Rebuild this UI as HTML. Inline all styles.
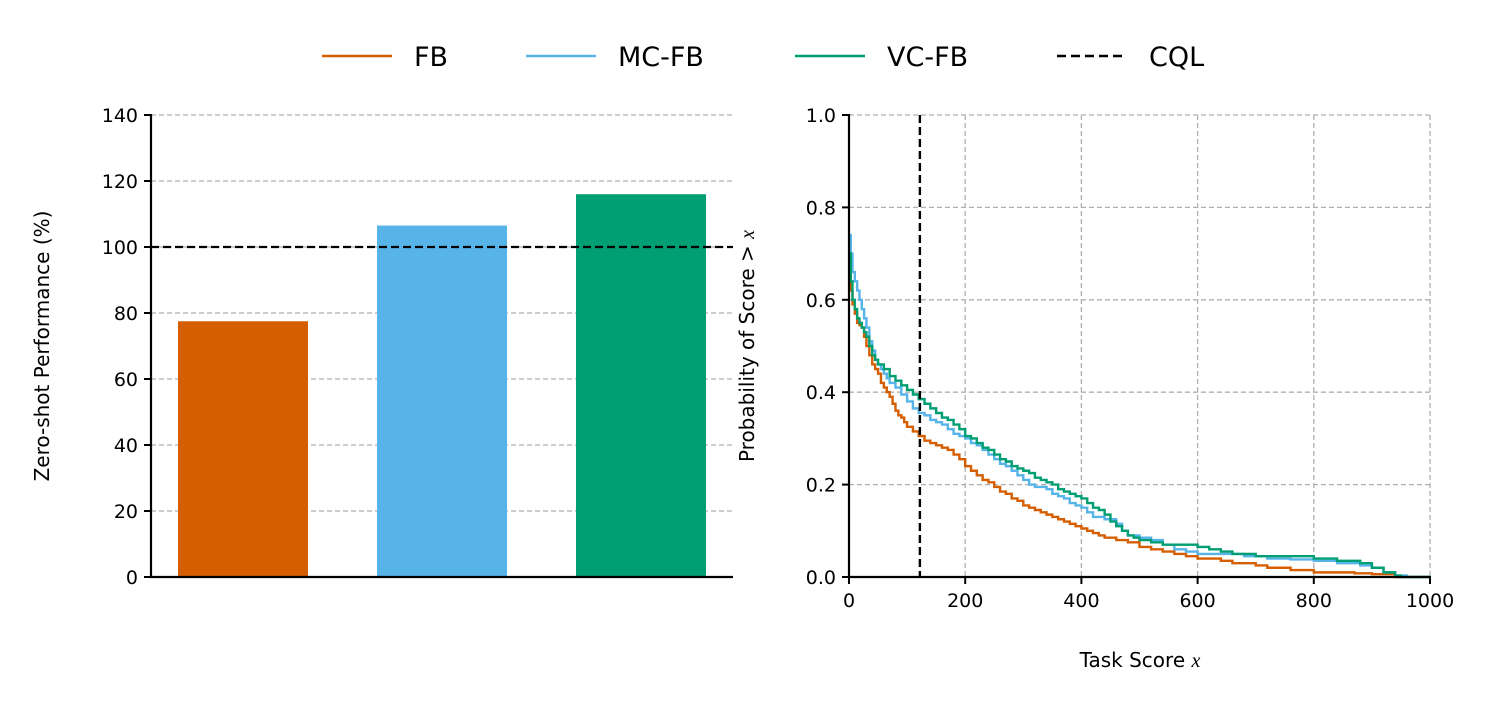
<!DOCTYPE html>
<html><head><meta charset="utf-8"><style>
body{margin:0;background:#fff;}
svg text{font-family:"DejaVu Sans","Liberation Sans",sans-serif;fill:#000;}
</style></head><body>
<svg id="c" width="1490" height="704" xmlns="http://www.w3.org/2000/svg"></svg>
<script>
const barCats=['FB','MC-FB','VC-FB'];
const barVals=[77.5,106.5,116];
const barColors=['#d55e00','#56b4e9','#009e73'];
const cqlRef=100;
const leftTicks=[0,20,40,60,80,100,120,140];
const fbX=[0,3,6,10,14,18,22,26,30,35,40,45,50,55,60,65,70,75,80,85,90,95,100,110,120,130,140,150,160,170,180,190,200,210,220,230,240,250,260,270,280,290,300,310,320,330,340,350,360,370,380,390,400,410,420,430,440,460,480,500,520,540,560,580,600,620,640,660,680,700,720,740,760,780,800,840,870,900,940,1000];
const fbP=[0.66,0.62,0.59,0.57,0.55,0.545,0.54,0.52,0.50,0.48,0.46,0.45,0.44,0.42,0.41,0.40,0.39,0.375,0.36,0.35,0.345,0.335,0.325,0.315,0.305,0.295,0.29,0.285,0.28,0.275,0.265,0.255,0.24,0.23,0.22,0.21,0.205,0.195,0.185,0.18,0.17,0.165,0.155,0.15,0.145,0.14,0.135,0.13,0.125,0.12,0.115,0.11,0.105,0.10,0.095,0.09,0.085,0.08,0.075,0.065,0.06,0.055,0.05,0.045,0.04,0.04,0.035,0.03,0.03,0.025,0.02,0.02,0.015,0.015,0.01,0.01,0.008,0.006,0,0];
const mcX=[0,3,6,10,14,18,22,26,30,35,40,45,50,55,60,65,70,80,90,100,110,120,130,140,150,160,170,180,190,200,210,220,230,240,250,260,270,280,290,300,310,320,340,350,360,370,380,390,400,410,420,440,460,470,480,500,520,540,560,580,600,640,680,720,760,800,840,880,900,920,940,960,1000];
const mcP=[0.74,0.70,0.66,0.64,0.62,0.60,0.58,0.56,0.54,0.51,0.49,0.47,0.46,0.45,0.44,0.43,0.42,0.41,0.395,0.38,0.365,0.355,0.35,0.34,0.335,0.33,0.32,0.31,0.305,0.30,0.29,0.285,0.275,0.265,0.255,0.245,0.24,0.23,0.22,0.21,0.20,0.195,0.19,0.18,0.175,0.17,0.16,0.155,0.15,0.14,0.13,0.125,0.115,0.10,0.09,0.085,0.08,0.07,0.06,0.055,0.05,0.05,0.045,0.04,0.038,0.035,0.03,0.025,0.02,0.01,0.003,0,0];
const vcX=[0,3,6,10,14,18,22,26,30,35,40,45,50,60,70,80,90,100,110,120,130,140,150,160,170,180,190,200,210,220,230,240,250,260,270,280,290,300,310,320,330,340,350,360,370,380,390,400,410,420,430,440,450,460,470,480,490,500,520,540,560,600,620,640,660,700,760,800,840,880,900,920,940,950,1000];
const vcP=[0.70,0.64,0.60,0.58,0.56,0.55,0.54,0.53,0.52,0.50,0.48,0.47,0.46,0.45,0.435,0.425,0.415,0.405,0.395,0.385,0.375,0.365,0.355,0.345,0.34,0.33,0.32,0.305,0.30,0.29,0.28,0.275,0.265,0.255,0.25,0.24,0.235,0.23,0.225,0.215,0.21,0.205,0.20,0.19,0.185,0.18,0.175,0.17,0.16,0.15,0.145,0.135,0.12,0.11,0.10,0.09,0.085,0.08,0.075,0.07,0.07,0.065,0.06,0.055,0.05,0.045,0.045,0.04,0.035,0.03,0.02,0.01,0.003,0,0];
const cqlScore=122;
const rxTicks=[0,200,400,600,800,1000];
const ryTicks=[0,0.2,0.4,0.6,0.8,1.0];

const svg=document.getElementById('c');
const NS='http://www.w3.org/2000/svg';
function mk(t,a,p){const e=document.createElementNS(NS,t);for(const k in a)e.setAttribute(k,a[k]);(p||svg).appendChild(e);return e;}
const ly=v=>577-v*(462/140);
const lg=mk('g',{});


leftTicks.forEach(t=>{
  if(t>0){const g=mk('line',{x1:151,x2:733,y1:ly(t),y2:ly(t),stroke:'#b0b0b0','stroke-width':1.3,'stroke-dasharray':'5,3'},lg);
  }
  mk('line',{x1:144,x2:151,y1:ly(t),y2:ly(t),stroke:'#000','stroke-width':2},lg);
  const tx=mk('text',{x:138,y:ly(t)+7,'text-anchor':'end','font-size':19},lg);tx.textContent=t;
  
});
const bx=i=>178+i*199;
barVals.forEach((v,i)=>{
  const r=mk('rect',{x:bx(i),y:ly(v),width:130,height:577-ly(v),fill:barColors[i]},lg);
  
  
});
const cq=mk('line',{x1:151,x2:733,y1:ly(cqlRef),y2:ly(cqlRef),stroke:'#000','stroke-width':2.2,'stroke-dasharray':'8,4'},lg);

mk('line',{x1:151,x2:151,y1:114,y2:578,stroke:'#000','stroke-width':2.2},lg);
mk('line',{x1:150,x2:733,y1:577,y2:577,stroke:'#000','stroke-width':2.2},lg);
const yl=mk('text',{x:0,y:0,transform:'translate(49,346) rotate(-90)','text-anchor':'middle','font-size':20},lg);
yl.textContent='Zero-shot Performance (%)';


const rx=v=>849+v*0.581, ry=p=>577-p*462;
const rg=mk('g',{});


ryTicks.forEach(t=>{
  if(t>0){const g=mk('line',{x1:849,x2:1430,y1:ry(t),y2:ry(t),stroke:'#b0b0b0','stroke-width':1.3,'stroke-dasharray':'5,3'},rg);
  }
  mk('line',{x1:842,x2:849,y1:ry(t),y2:ry(t),stroke:'#000','stroke-width':2},rg);
  const tx=mk('text',{x:836,y:ry(t)+7,'text-anchor':'end','font-size':19},rg);tx.textContent=t.toFixed(1);
  
});
rxTicks.forEach(t=>{
  if(t>0){const g=mk('line',{x1:rx(t),x2:rx(t),y1:115,y2:577,stroke:'#b0b0b0','stroke-width':1.3,'stroke-dasharray':'5,3'},rg);
  }
  mk('line',{x1:rx(t),x2:rx(t),y1:577,y2:584,stroke:'#000','stroke-width':2},rg);
  const tx=mk('text',{x:rx(t),y:607,'text-anchor':'middle','font-size':19},rg);tx.textContent=t;
  
});
function step(xs,ps,col,name){
  let d='M'+rx(xs[0])+','+ry(ps[0]);
  for(let i=1;i<xs.length;i++){d+=' H'+rx(xs[i])+' V'+ry(ps[i]);}
  const p=mk('path',{d:d,fill:'none',stroke:col,'stroke-width':2.4},rg);
  
}
step(fbX,fbP,'#d55e00','fb-curve');
step(mcX,mcP,'#56b4e9','mc-fb-curve');
step(vcX,vcP,'#009e73','vc-fb-curve');
const cv=mk('line',{x1:rx(cqlScore),x2:rx(cqlScore),y1:115,y2:577,stroke:'#000','stroke-width':2.4,'stroke-dasharray':'8,4'},rg);

mk('line',{x1:849,x2:849,y1:114,y2:578,stroke:'#000','stroke-width':2.2},rg);
mk('line',{x1:848,x2:1431,y1:577,y2:577,stroke:'#000','stroke-width':2.2},rg);
const ryl=mk('text',{x:0,y:0,transform:'translate(754,346) rotate(-90)','text-anchor':'middle','font-size':20},rg);
ryl.innerHTML='Probability of Score &gt; <tspan font-style="italic" font-family="Liberation Serif">x</tspan>';

const rxl=mk('text',{x:1140,y:667,'text-anchor':'middle','font-size':20},rg);
rxl.innerHTML='Task Score <tspan font-style="italic" font-family="Liberation Serif">x</tspan>';


const legItems=[['FB','#d55e00',322,false],['MC-FB','#56b4e9',526,false],['VC-FB','#009e73',795,false],['CQL','#000',1057,true]];
const leg=mk('g',{});


legItems.forEach(it=>{
  const g=mk('g',{},leg);
  
  
  const a={x1:it[2],x2:it[2]+70,y1:56,y2:56,stroke:it[1],'stroke-width':2.6};
  if(it[3])a['stroke-dasharray']='9,5';
  mk('line',a,g);
  const t=mk('text',{x:it[2]+92,y:66,'font-size':27},g);t.textContent=it[0];
});
</script>
</body></html>
